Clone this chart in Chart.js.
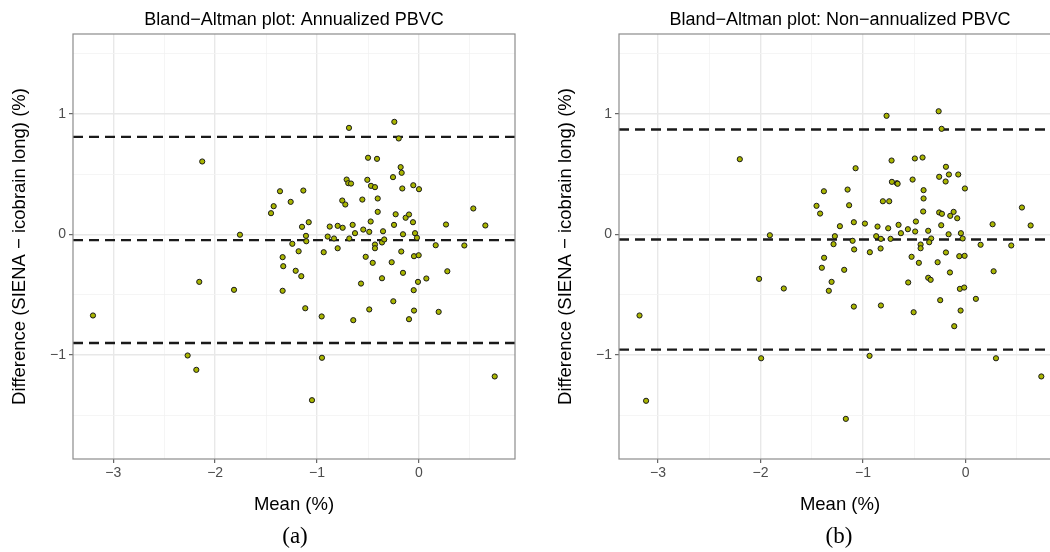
<!DOCTYPE html>
<html>
<head>
<meta charset="utf-8">
<script src="https://cdn.jsdelivr.net/npm/chart.js@4.4.1/dist/chart.umd.min.js"></script>
<style>
  html, body { margin: 0; padding: 0; background: #fff; overflow: hidden; }
  body { width: 1050px; height: 552px; position: relative; }
  .panel { position: absolute; top: 0; width: 540px; height: 525px; }
  .caption { position: absolute; top: 523px; width: 100px; text-align: center;
             font-family: "Liberation Serif", serif; font-size: 23px; color: #000; }
</style>
</head>
<body>
<div class="panel" style="left:0"><canvas id="chartA" width="540" height="525"></canvas></div>
<div class="panel" style="left:546px"><canvas id="chartB" width="540" height="525"></canvas></div>
<div class="caption" style="left:245px">(a)</div>
<div class="caption" style="left:789px">(b)</div>
<script>
// (a) annualized PBVC: mean of the two methods vs. difference, in %
const meanA = [
  -2.127, -1.757, -0.687, -0.242, -0.199, -0.500, -0.412, -0.180, -0.170, -0.255,
  -0.710, -0.694, -0.667, -0.507, -0.471, -0.432, -0.164, -0.056, 0.000, -1.364,
  -1.135, -1.259, -1.426, -1.452, -0.753, -0.723, -0.556, -0.405, -0.405, -0.229,
  -0.131, -0.098, -0.059, 0.533, -1.148, -1.082, -0.876, -0.798, -0.749, -0.651,
  -0.474, -0.245, 0.265, 0.651, -0.628, -0.547, -0.488, -0.353, -0.157, -0.039,
  -0.020, -1.109, -1.106, -1.243, -1.338, -1.181, -1.332, -0.935, -0.896, -0.834,
  -0.798, -0.684, -0.432, -0.432, -0.363, -0.341, -0.523, -0.454, -0.268, -0.174,
  -0.049, -0.003, 0.164, 0.445, -1.210, -1.155, -1.338, -1.116, -0.955, -0.645,
  -0.488, -0.569, -0.363, -0.157, -0.010, 0.072, -0.052, 0.278, -0.252, -0.049,
  -0.098, 0.193, -3.199, -2.156, -1.815, -2.270, -2.185, -0.952, -1.050, 0.743
];
const diffA = [
  0.606, -0.002, 0.885, 0.935, 0.797, 0.637, 0.628, 0.559, 0.512, 0.476,
  0.456, 0.426, 0.423, 0.454, 0.404, 0.393, 0.382, 0.409, 0.376, 0.359,
  0.365, 0.271, 0.235, 0.177, 0.282, 0.249, 0.290, 0.299, 0.188, 0.168,
  0.139, 0.166, 0.102, 0.216, 0.064, 0.102, 0.066, 0.072, 0.056, 0.080,
  0.108, 0.080, 0.083, 0.075, 0.011, 0.041, 0.022, 0.027, 0.002, 0.011,
  -0.027, -0.011, -0.056, -0.077, -0.188, -0.139, -0.263, -0.147, -0.017, -0.033,
  -0.114, -0.033, -0.083, -0.114, -0.066, -0.041, -0.185, -0.235, -0.230, -0.141,
  -0.180, -0.172, -0.089, -0.091, -0.301, -0.346, -0.467, -0.612, -0.680, -0.711,
  -0.622, -0.407, -0.363, -0.318, -0.393, -0.365, -0.462, -0.305, -0.554, -0.631,
  -0.703, -0.642, -0.672, -0.393, -0.459, -1.004, -1.123, -1.023, -1.375, -1.178
];
// upper limit, mean bias, lower limit
const limitsA = [0.81, -0.047, -0.90];

// (b) non-annualized PBVC
const meanB = [
  -2.202, -1.909, -0.771, -0.263, -0.234, -0.722, -0.495, -0.420, -1.073, -0.192,
  -0.258, -0.163, -0.072, -0.195, -0.517, -0.719, -0.670, -0.663, -1.382, -1.151,
  -0.410, -0.410, -0.007, -1.454, -1.419, -1.136, -0.807, -0.745, -0.414, -0.258,
  -0.231, -0.150, -0.117, -0.082, 0.549, -1.090, -0.982, -1.226, -0.859, -0.755,
  -0.654, -0.563, -0.485, -0.238, 0.263, 0.634, -0.492, -0.631, -0.365, -0.166,
  -0.046, -0.029, -1.275, -1.102, -0.872, -0.826, -0.732, -0.336, -0.355, -0.439,
  -0.439, -1.288, -1.087, -0.829, -0.934, -0.192, 0.146, 0.445, -1.380, -0.527,
  -0.062, -0.010, -0.456, -0.273, -1.402, -1.184, -1.307, -1.334, -1.773, -1.090,
  -0.826, -0.560, -0.365, -0.341, -0.153, -0.056, -0.014, 0.100, -0.248, -0.507,
  -0.049, -0.111, 0.273, -2.014, -3.180, -3.116, -1.994, -0.937, -1.168, 0.296,
  0.738
];
const diffB = [
  0.625, -0.006, 0.985, 1.023, 0.877, 0.614, 0.631, 0.639, 0.550, 0.562,
  0.479, 0.498, 0.498, 0.440, 0.456, 0.437, 0.426, 0.421, 0.359, 0.373,
  0.368, 0.299, 0.382, 0.238, 0.174, 0.243, 0.276, 0.276, 0.191, 0.183,
  0.172, 0.155, 0.188, 0.135, 0.224, 0.102, 0.091, 0.069, 0.066, 0.052,
  0.080, 0.044, 0.108, 0.077, 0.085, 0.075, 0.025, 0.011, 0.031, 0.002,
  0.011, -0.033, -0.014, -0.052, -0.014, -0.036, -0.036, -0.033, -0.064, -0.083,
  -0.114, -0.080, -0.124, -0.116, -0.147, -0.149, -0.085, -0.091, -0.193, -0.185,
  -0.180, -0.177, -0.235, -0.230, -0.276, -0.293, -0.393, -0.467, -0.448, -0.598,
  -0.589, -0.398, -0.359, -0.376, -0.315, -0.451, -0.440, -0.534, -0.545, -0.645,
  -0.631, -0.761, -0.305, -0.368, -0.672, -1.380, -1.027, -1.007, -1.530, -1.027,
  -1.178
];
const limitsB = [0.871, -0.041, -0.955];

// axis ranges and grid positions (labels only on whole numbers)
const xRangeA = [-3.395, 0.942];
const xRangeB = [-3.38, 0.93];
const yRange = [-1.863, 1.664];
const xGrid = [-3, -2.5, -2, -1.5, -1, -0.5, 0, 0.5];
const yGrid = [-1.5, -1, -0.5, 0, 0.5, 1, 1.5];

const FONT = '"Liberation Sans", Arial, sans-serif';

function fmt(v) {
  return v < 0 ? '\u2212' + Math.abs(v) : String(v);
}

function isMajor(ctx) {
  return ctx.tick && Number.isInteger(ctx.tick.value);
}

// grey frame around the panel, like ggplot's panel border
const panelBorder = {
  id: 'panelBorder',
  afterDraw(chart) {
    const { ctx, chartArea: a } = chart;
    ctx.save();
    ctx.strokeStyle = '#8c8c8c';
    ctx.lineWidth = 1.2;
    ctx.strokeRect(a.left, a.top, a.right - a.left, a.bottom - a.top);
    ctx.restore();
  }
};

function gridOpts() {
  return {
    color: ctx => isMajor(ctx) ? '#e8e8e8' : '#f2f2f2',
    lineWidth: ctx => isMajor(ctx) ? 1.4 : 0.8,
    tickColor: ctx => isMajor(ctx) ? '#444' : 'rgba(0,0,0,0)',
    tickLength: 4,
    tickWidth: 1
  };
}

function makeChart(id, title, means, diffs, limits, xRange) {
  const points = means.map((m, i) => ({ x: m, y: diffs[i] }));
  const hlines = limits.map(v => ({
    type: 'line',
    data: [{ x: xRange[0], y: v }, { x: xRange[1], y: v }],
    borderColor: '#1a1a1a',
    borderWidth: 2.4,
    borderDash: [10, 6],
    pointRadius: 0,
    fill: false
  }));

  return new Chart(document.getElementById(id), {
    type: 'scatter',
    data: {
      datasets: [{
        data: points,
        pointRadius: 2.6,
        pointBackgroundColor: '#a9b500',
        pointBorderColor: '#1a1a1a',
        pointBorderWidth: 1
      }].concat(hlines)
    },
    options: {
      responsive: false,
      animation: false,
      layout: { padding: { top: 0, right: 25, bottom: 0, left: 0 } },
      plugins: {
        legend: { display: false },
        tooltip: { enabled: false },
        title: {
          display: true,
          text: title,
          fullSize: false,
          color: '#000',
          font: { family: FONT, size: 18, weight: 'normal' },
          padding: { top: 9, bottom: 3.4 }
        }
      },
      scales: {
        x: {
          type: 'linear',
          min: xRange[0],
          max: xRange[1],
          afterBuildTicks: axis => { axis.ticks = xGrid.map(v => ({ value: v })); },
          afterFit: axis => { axis.height = 66; },
          grid: gridOpts(),
          border: { display: false },
          ticks: {
            autoSkip: false,
            maxRotation: 0,
            padding: 2,
            color: '#4d4d4d',
            font: { family: FONT, size: 14 },
            callback: v => Number.isInteger(v) ? fmt(v) : ''
          },
          title: {
            display: true,
            text: 'Mean (%)',
            color: '#000',
            font: { family: FONT, size: 18.5 },
            padding: { top: 0, bottom: 9 }
          }
        },
        y: {
          type: 'linear',
          min: yRange[0],
          max: yRange[1],
          afterBuildTicks: axis => { axis.ticks = yGrid.map(v => ({ value: v })); },
          afterFit: axis => { axis.width = 73; },
          grid: gridOpts(),
          border: { display: false },
          ticks: {
            autoSkip: false,
            padding: 3,
            color: '#4d4d4d',
            font: { family: FONT, size: 14 },
            callback: v => Number.isInteger(v) ? fmt(v) : ''
          },
          title: {
            display: true,
            text: 'Difference (SIENA \u2212 icobrain long) (%)',
            color: '#000',
            font: { family: FONT, size: 18.5 },
            padding: { top: 9, bottom: 0 }
          }
        }
      }
    },
    plugins: [panelBorder]
  });
}

makeChart('chartA', 'Bland\u2212Altman plot: Annualized PBVC', meanA, diffA, limitsA, xRangeA);
makeChart('chartB', 'Bland\u2212Altman plot: Non\u2212annualized PBVC', meanB, diffB, limitsB, xRangeB);
</script>
</body>
</html>
